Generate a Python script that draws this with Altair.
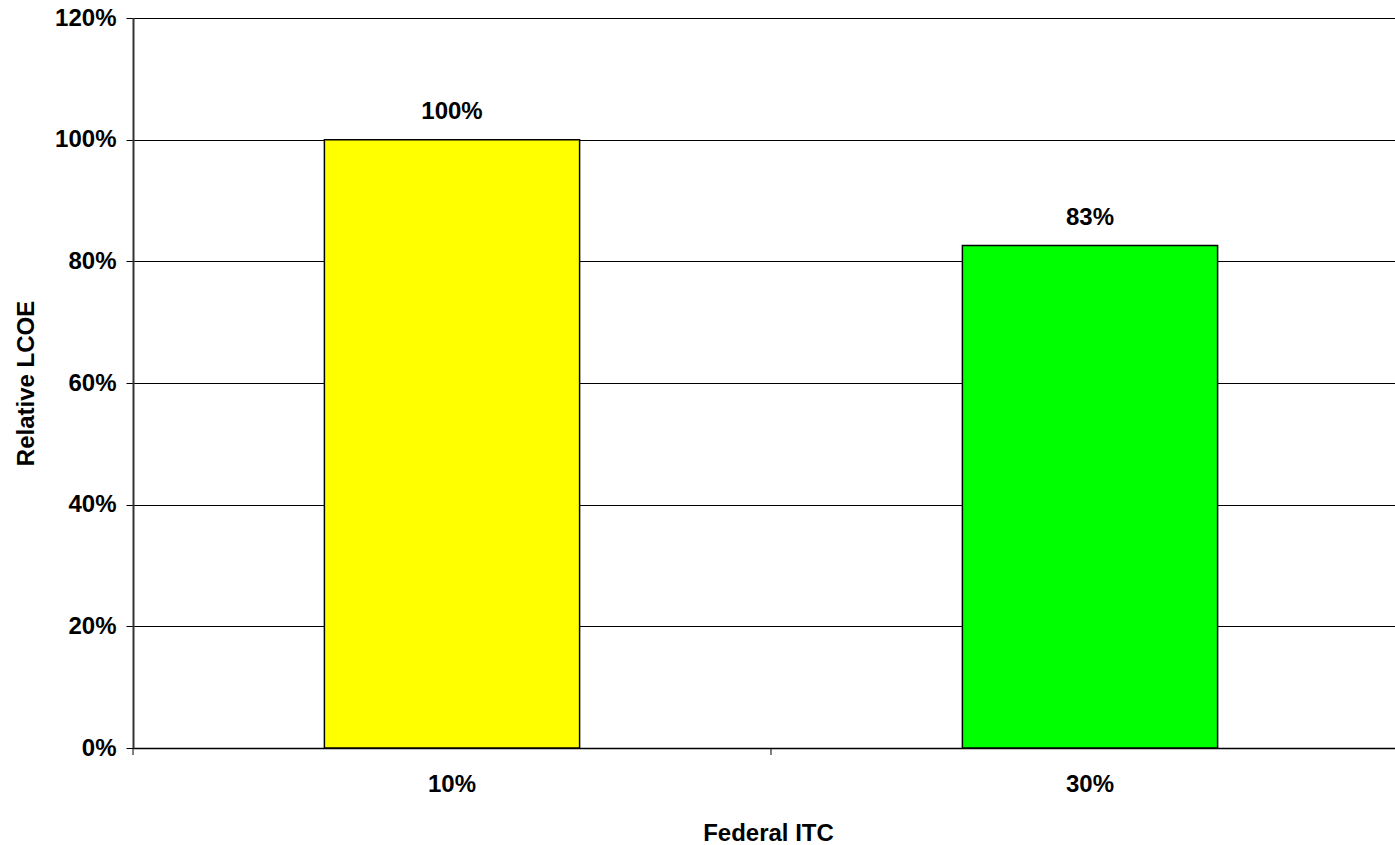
import altair as alt
import pandas as pd

categories = ["10%", "30%"]
values = [1.00, 0.826]
colors = ["#FFFF00", "#00FF00"]
y_ticks = [0, 0.2, 0.4, 0.6, 0.8, 1.0, 1.2]

df = pd.DataFrame({"itc": categories, "lcoe": values, "color": colors})

FONT = "Liberation Sans"
FS = 24
TFS = 24

x_scale = alt.Scale(domain=categories, range=[0, 1276], paddingInner=0.6, paddingOuter=0.3)
y_scale = alt.Scale(domain=[0, 1.2], nice=False, zero=True)

x_axis = alt.Axis(
    title="Federal ITC", labelAngle=0, ticks=False, tickSize=0,
    domain=True, domainColor="black", domainWidth=1.5, grid=False,
    labelFont=FONT, labelFontSize=FS, labelFontWeight="bold", labelColor="black",
    labelPadding=24, labelBaseline="top",
    titleFont=FONT, titleFontSize=TFS, titleFontWeight="bold", titleColor="black",
    titleX=635, titleY=92, titleBaseline="alphabetic", titleAlign="center",
)
y_axis = alt.Axis(
    title="Relative LCOE", values=y_ticks, format=".0%",
    grid=True, gridColor="black", gridWidth=1, gridOpacity=1,
    domain=True, domainColor="#333333", domainWidth=2,
    ticks=True, tickColor="black", tickSize=7, tickWidth=1,
    labelFont=FONT, labelFontSize=FS, labelFontWeight="bold", labelColor="black",
    labelPadding=10, labelAlign="right", labelBaseline="middle",
    titleFont=FONT, titleFontSize=TFS, titleFontWeight="bold", titleColor="black",
    titleAngle=270, titleX=-100, titleY=365, titleBaseline="alphabetic", titleAlign="center",
)

base = alt.Chart(df)

bars = base.mark_bar(stroke="black", strokeWidth=1.5).encode(
    x=alt.X("itc:N", scale=x_scale, sort=categories, axis=x_axis),
    y=alt.Y("lcoe:Q", scale=y_scale, axis=y_axis),
    color=alt.Color("color:N", scale=None),
)

labels = base.mark_text(
    dy=-21, baseline="alphabetic", align="center",
    font=FONT, fontSize=FS, fontWeight="bold", color="black",
).encode(
    x=alt.X("itc:N", scale=x_scale, sort=categories),
    y=alt.Y("lcoe:Q", scale=y_scale),
    text=alt.Text("lcoe:Q", format=".0%"),
)

ticks = alt.Chart(df).mark_rule(color="black", strokeWidth=1).encode(
    x=alt.X("itc:N", sort=categories, bandPosition=0,
            scale=alt.Scale(domain=categories, range=[0, 1276], paddingInner=0, paddingOuter=0),
            axis=None),
    y=alt.value(730),
    y2=alt.value(737),
)

main = alt.layer(bars, labels)
chart = alt.layer(main, ticks).resolve_scale(x="independent").properties(
    width=1262, height=730,
    autosize=alt.AutoSizeParams(type="none"),
    padding={"left": 133, "top": 18, "right": 0, "bottom": 97},
    background="white",
).configure_view(stroke=None)

chart.save("out.html", embed_options={"renderer": "svg", "actions": False})
